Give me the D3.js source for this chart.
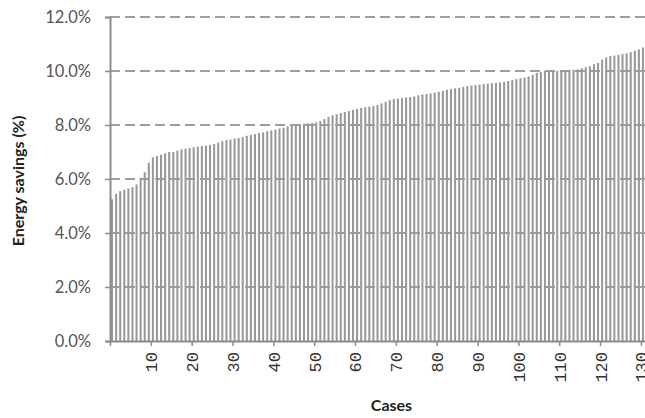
<!DOCTYPE html>
<html>
<head>
<meta charset="utf-8">
<script src="https://cdn.jsdelivr.net/npm/d3@7"></script>
<style>
  body { margin: 0; background: #fff; }
  svg { display: block; }
</style>
</head>
<body>
<div id="chart"></div>
<script>
// energy savings per case (%), sorted ascending as in the figure
const savings = [
  5.25, 5.45, 5.55, 5.6, 5.65, 5.7, 5.8, 6.05, 6.25, 6.6,
  6.8, 6.85, 6.9, 6.95, 7.0, 7.0, 7.05, 7.1, 7.12, 7.15,
  7.18, 7.2, 7.22, 7.24, 7.26, 7.3, 7.35, 7.4, 7.44, 7.46,
  7.5, 7.52, 7.55, 7.6, 7.63, 7.66, 7.7, 7.73, 7.77, 7.8,
  7.83, 7.87, 7.9, 7.95, 8.0, 8.02, 8.04, 8.05, 8.06, 8.07,
  8.1, 8.15, 8.22, 8.3, 8.36, 8.4, 8.44, 8.48, 8.52, 8.56,
  8.6, 8.63, 8.66, 8.68, 8.7, 8.74, 8.8, 8.86, 8.92, 8.96,
  8.98, 9.0, 9.02, 9.04, 9.06, 9.1, 9.13, 9.15, 9.17, 9.2,
  9.23, 9.26, 9.3, 9.33, 9.36, 9.38, 9.41, 9.44, 9.46, 9.48,
  9.5, 9.52, 9.53, 9.55, 9.56, 9.58, 9.6, 9.63, 9.66, 9.7,
  9.73, 9.76, 9.8, 9.86, 9.93, 9.97, 10.0, 10.0, 10.0, 10.01,
  10.02, 10.03, 10.04, 10.05, 10.06, 10.1, 10.14, 10.18, 10.25, 10.3,
  10.42, 10.5, 10.55, 10.57, 10.6, 10.63, 10.66, 10.7, 10.75, 10.8, 10.87
]
const cases = savings.map(function(d, i) { return i + 1 })
const yTicks = [0, 2, 4, 6, 8, 10, 12]
const xTicks = [0, 10, 20, 30, 40, 50, 60, 70, 80, 90, 100, 110, 120, 130]

var margin = {top: 17, right: 0, bottom: 77, left: 110},
    width = 645 - margin.left - margin.right,
    height = 418 - margin.top - margin.bottom;

var svg = d3.select("#chart")
  .append("svg")
    .attr("width", 645)
    .attr("height", 418)
  .append("g")
    .attr("transform", "translate(" + margin.left + "," + margin.top + ")");

var x = d3.scaleLinear().domain([0, cases.length]).range([0, width]);
var y = d3.scaleLinear().domain([0, 12]).range([height, 0]);
var step = x(1) - x(0);

// dashed gridlines
svg.append("g")
  .selectAll("line")
  .data(yTicks.slice(1))
  .enter()
  .append("line")
    .attr("x1", 0)
    .attr("x2", width)
    .attr("y1", function(d) { return y(d) })
    .attr("y2", function(d) { return y(d) })
    .attr("stroke", "#7f7f7f")
    .attr("stroke-width", 1.7)
    .attr("stroke-dasharray", "10,5")

// bars
svg.append("g")
  .selectAll("rect")
  .data(savings)
  .enter()
  .append("rect")
    .attr("x", function(d, i) { return x(i) + step * 0.25 })
    .attr("width", step * 0.5)
    .attr("y", function(d) { return y(d) })
    .attr("height", function(d) { return height - y(d) })
    .attr("fill", "#999")

// y axis
var yAxis = svg.append("g")
  .call(d3.axisLeft(y).tickValues(yTicks).tickSize(5).tickPadding(14)
    .tickFormat(function(d) { return d.toFixed(1) + "%" }));
yAxis.select(".domain").attr("stroke", "#8c8c8c").attr("stroke-width", 2);
yAxis.selectAll(".tick line").attr("stroke", "#8c8c8c").attr("stroke-width", 1.5);
yAxis.selectAll("text")
  .attr("fill", "#555")
  .style("font-family", "Lato, sans-serif")
  .style("font-size", "16.5px");

// x axis
var xAxis = svg.append("g")
  .attr("transform", "translate(0," + height + ")")
  .call(d3.axisBottom(x).tickValues(xTicks).tickSize(5).tickSizeOuter(0)
    .tickFormat(function(d) { return d === 0 ? "" : d }));
xAxis.select(".domain").attr("stroke", "#8c8c8c").attr("stroke-width", 2);
xAxis.selectAll(".tick line").attr("stroke", "#8c8c8c").attr("stroke-width", 1.5);
xAxis.selectAll("text")
  .attr("fill", "#333")
  .attr("transform", "rotate(-90)")
  .attr("text-anchor", "end")
  .attr("x", -11)
  .attr("y", 0)
  .attr("dy", "0.35em")
  .style("font-family", "'Liberation Mono', monospace")
  .style("font-size", "17px");

// axis titles
svg.append("text")
  .attr("x", width / 2 + 14)
  .attr("y", height + 70)
  .attr("text-anchor", "middle")
  .style("font-family", "Lato, sans-serif")
  .style("font-weight", "bold")
  .style("font-size", "16px")
  .attr("fill", "#222")
  .text("Cases")

svg.append("text")
  .attr("transform", "translate(" + (-86) + "," + (height / 2 + 2) + ") rotate(-90)")
  .attr("text-anchor", "middle")
  .style("font-family", "Lato, sans-serif")
  .style("font-weight", "bold")
  .style("font-size", "16px")
  .attr("fill", "#222")
  .text("Energy savings (%)")
</script>
</body>
</html>
